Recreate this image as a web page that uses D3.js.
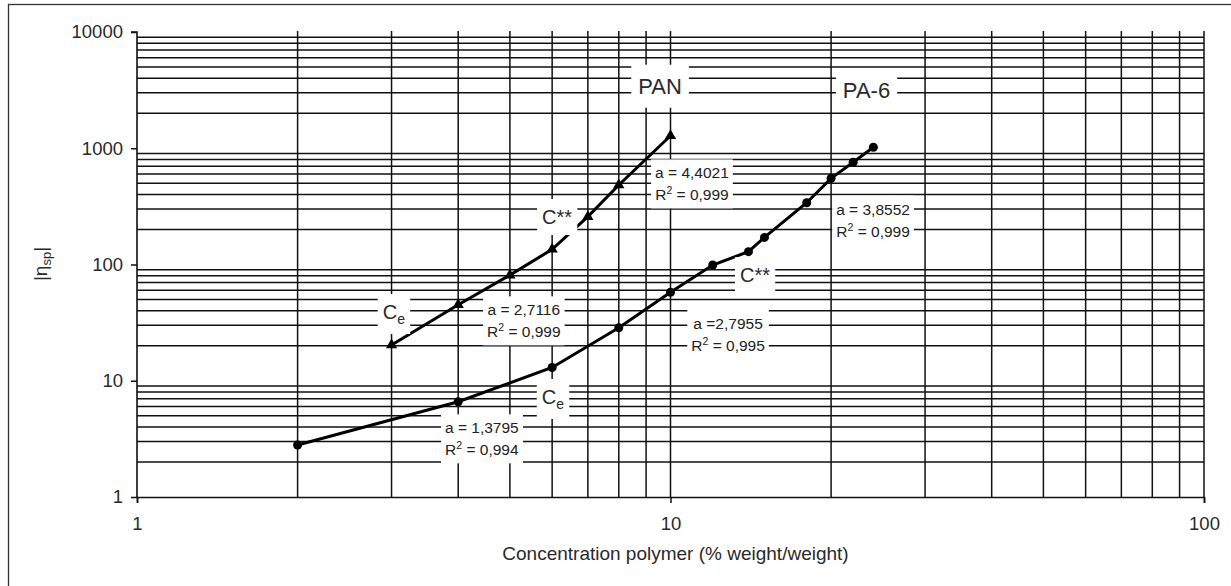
<!DOCTYPE html>
<html><head><meta charset="utf-8">
<script src="https://cdn.jsdelivr.net/npm/d3@7"></script>
<style>body{margin:0;background:#fff}svg{display:block;font-family:"Liberation Sans",Arial,sans-serif}</style>
</head><body>
<svg id="c" width="1231" height="586"></svg>
<script>
// ---- data ----
const panX = [3, 4, 5, 6, 7, 8, 10];
const panY = [20.3, 45, 81, 135, 258, 483, 1280];
const pa6X = [2, 4, 6, 8, 10, 12, 14, 15, 18, 20, 22, 24];
const pa6Y = [2.8, 6.6, 13.0, 28.6, 57.7, 99, 129, 171, 340, 551, 757, 1019];
const xTicks = [1, 10, 100];
const yTicks = [1, 10, 100, 1000, 10000];
const xTitle = "Concentration polymer (% weight/weight)";
// annotation texts anchored in data space
const seriesLabels = [{t:"PAN", x:9.56, y:3430}, {t:"PA-6", x:23.3, y:3170}];
const critLabels = [{t:"C**", x:6.13, y:256}, {t:"Ce", x:3.03, y:39}, {t:"C**", x:14.4, y:81}, {t:"Ce", x:6.02, y:7.25}];
const fitLabels = [
  {a:"a = 4,4021", r:" = 0,999", x:10.97, y:493},
  {a:"a = 3,8552", r:" = 0,999", x:23.97, y:241},
  {a:"a = 2,7116", r:" = 0,999", x:5.31, y:32.7},
  {a:"a =2,7955", r:" = 0,995", x:12.82, y:25.2},
  {a:"a = 1,3795", r:" = 0,994", x:4.43, y:3.16}
];

const svg = d3.select("#c");
const x = d3.scaleLog().domain([1, 100]).range([137, 1204]);
const y = d3.scaleLog().domain([1, 10000]).range([497, 32]);

// outer border
svg.append("rect").attr("x", 8.5).attr("y", 4.5).attr("width", 1240).attr("height", 600)
  .attr("fill", "none").attr("stroke", "#333").attr("stroke-width", 1.3);

// gridlines
const vGrid = [], hGrid = [];
[1, 10].forEach(d => { for (let k = 2; k <= 10; k++) vGrid.push(k * d); });
[1, 10, 100, 1000].forEach(d => { for (let k = 2; k <= 9; k++) hGrid.push(k * d); });
const g = svg.append("g").attr("stroke", "#111").attr("stroke-width", 1.5);
g.selectAll(".v").data(vGrid).join("line")
  .attr("x1", d => x(d)).attr("x2", d => x(d)).attr("y1", y(10000) - 1).attr("y2", y(1));
g.selectAll(".h").data(hGrid).join("line")
  .attr("x1", x(1)).attr("x2", x(100)).attr("y1", d => y(d)).attr("y2", d => y(d));

// axes
const yAxis = d3.axisLeft(y).tickValues(yTicks).tickFormat(d3.format("d")).tickSize(6).tickPadding(8);
const xAxis = d3.axisBottom(x).tickValues(xTicks).tickFormat(d3.format("d")).tickSize(6).tickPadding(14);
const ya = svg.append("g").attr("transform", `translate(${x(1)},0)`).call(yAxis);
const xa = svg.append("g").attr("transform", `translate(0,${y(1)})`).call(xAxis);
[ya, xa].forEach(a => {
  a.select(".domain").attr("stroke", "#111").attr("stroke-width", 1.6);
  a.selectAll(".tick line").attr("stroke", "#111").attr("stroke-width", 1.5);
  a.selectAll("text").attr("font-size", 18.5).attr("fill", "#2a2a2a").attr("font-family", "Liberation Sans, Arial, sans-serif");
});
ya.select(".domain").attr("d", `M-6,${y(10000)}H0V${y(1)}`);

// axis titles
svg.append("text").attr("x", (x(1) + x(100)) / 2 + 5).attr("y", 560).attr("text-anchor", "middle")
  .attr("font-size", 19).attr("fill", "#2a2a2a").text(xTitle);
const yt = svg.append("text").attr("transform", "translate(47,264) rotate(-90)").attr("text-anchor", "middle")
  .attr("font-size", 19).attr("fill", "#2a2a2a");
yt.append("tspan").text("|η");
yt.append("tspan").attr("font-size", 13).attr("dy", 4).text("sp");
yt.append("tspan").attr("dy", -4).text("|");

// series lines
const line = d3.line().x(d => x(d[0])).y(d => y(d[1]));
const pan = panX.map((v, i) => [v, panY[i]]);
const pa6 = pa6X.map((v, i) => [v, pa6Y[i]]);
svg.append("path").datum(pan).attr("d", line).attr("fill", "none").attr("stroke", "#000").attr("stroke-width", 3);
svg.append("path").datum(pa6).attr("d", line).attr("fill", "none").attr("stroke", "#000").attr("stroke-width", 3);
const tri = d3.symbol().type(d3.symbolTriangle).size(55);
svg.selectAll(".tri").data(pan).join("path").attr("d", tri)
  .attr("transform", d => `translate(${x(d[0])},${y(d[1])})`).attr("fill", "#000");
svg.selectAll(".dot").data(pa6).join("circle").attr("cx", d => x(d[0])).attr("cy", d => y(d[1]))
  .attr("r", 4.5).attr("fill", "#000");

// boxed labels
function boxed(grp, padX, padY) {
  const bb = grp.node().getBBox();
  grp.insert("rect", ":first-child").attr("x", bb.x - padX).attr("y", bb.y - padY)
    .attr("width", bb.width + 2 * padX).attr("height", bb.height + 2 * padY).attr("fill", "#fff");
}
seriesLabels.forEach(l => {
  const gr = svg.append("g");
  gr.append("text").attr("x", x(l.x)).attr("y", y(l.y)).attr("text-anchor", "middle").attr("dy", "0.35em")
    .attr("font-size", 22).attr("fill", "#2a2a2a").text(l.t);
  boxed(gr, 7, 9);
});
critLabels.forEach(l => {
  const gr = svg.append("g");
  const t = gr.append("text").attr("x", x(l.x)).attr("y", y(l.y)).attr("text-anchor", "middle").attr("dy", "0.35em")
    .attr("font-size", 20).attr("fill", "#2a2a2a");
  if (l.t === "Ce") {
    t.append("tspan").text("C");
    t.append("tspan").attr("font-size", 14).attr("dy", 5).text("e");
  } else t.text(l.t);
  boxed(gr, 5, 7);
});
fitLabels.forEach(l => {
  const gr = svg.append("g");
  const cx = x(l.x), cy = y(l.y);
  gr.append("text").attr("x", cx).attr("y", cy - 11).attr("dy", "0.35em").attr("text-anchor", "middle")
    .attr("font-size", 15.5).attr("fill", "#222").text(l.a);
  const t2 = gr.append("text").attr("x", cx).attr("y", cy + 11).attr("dy", "0.35em").attr("text-anchor", "middle")
    .attr("font-size", 15.5).attr("fill", "#222");
  t2.append("tspan").text("R");
  t2.append("tspan").attr("font-size", 10.5).attr("dy", -6).text("2");
  t2.append("tspan").attr("dy", 6).text(l.r);
  boxed(gr, 4, 5);
});
</script>
</body></html>
